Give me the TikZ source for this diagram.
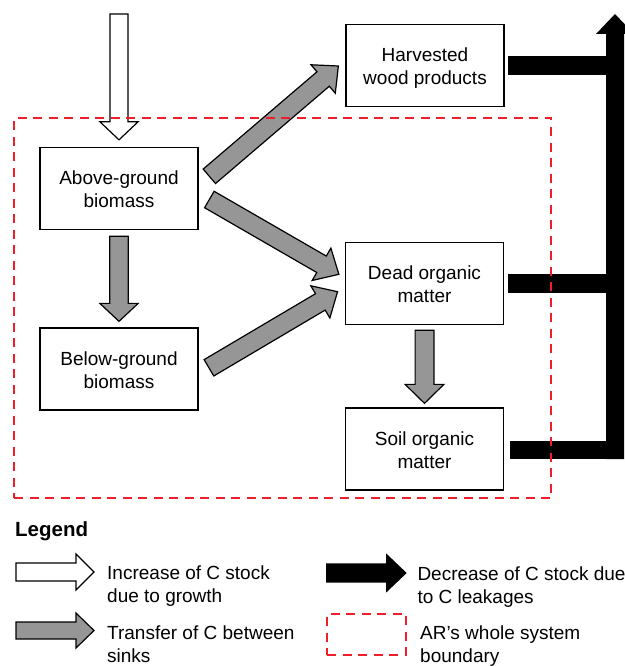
\documentclass[tikz,border=0pt]{standalone}
\usepackage{fontspec}
\setmainfont{Liberation Sans}
\usetikzlibrary{calc}
\definecolor{arrgray}{RGB}{150,150,150}
\definecolor{bred}{RGB}{240,30,40}
\newcommand\fatarr[6][]{% #1 style, #2 from, #3 to, #4 shaft half width, #5 head half width, #6 head length
  \coordinate (fa-hb) at ($(#3)!#6!(#2)$);
  \path[#1] ($(#2)!#4!90:(#3)$) -- ($(fa-hb)!#4!90:(#3)$) -- ($(fa-hb)!#5!90:(#3)$) -- (#3)
    -- ($(fa-hb)!#5!-90:(#3)$) -- ($(fa-hb)!#4!-90:(#3)$) -- ($(#2)!#4!-90:(#3)$) -- cycle;
}
\tikzset{
  box/.style={draw, line width=1.3pt, minimum width=158pt, minimum height=82pt, align=center,
    inner sep=0pt, text height=38pt, text depth=0pt, font=\fontsize{19}{23}\selectfont},
  grayarr/.style={draw=black, fill=arrgray, line width=1.2pt, line join=miter},
  whitearr/.style={draw=black, fill=white, line width=1.2pt, line join=miter},
  blackarr/.style={fill=black},
  boundary/.style={draw=bred, line width=2pt, dash pattern=on 9pt off 6.5pt},
  legtext/.style={anchor=base west, align=left, inner sep=0pt, font=\fontsize{19}{23}\selectfont},
}
\begin{document}
\begin{tikzpicture}[x=1pt, y={(0pt,-1pt)}]
\useasboundingbox (0,0) rectangle (624,666);

% boxes
\node[box] (above) at (119,188.5) {Above-ground\\biomass};
\node[box] (below) at (119,369) {Below-ground\\biomass};
\node[box] (harv) at (425,65.5) {Harvested\\wood products};
\node[box] (dead) at (424.5,283.5) {Dead organic\\matter};
\node[box] (soil) at (424.5,449) {Soil organic\\matter};

% growth input
\coordinate (src) at (119,14);
\coordinate (srcend) at ($(above.north)+(0,-7)$);
\fatarr[whitearr]{src}{srcend}{9pt}{19pt}{18pt}

% transfers
\coordinate (t1s) at ($(above.east)+(10.7,-12.2)$);
\coordinate (t1e) at ($(harv.west)+(-7,0.5)$);
\fatarr[grayarr]{t1s}{t1e}{9.5pt}{18.7pt}{20pt}
\coordinate (t2s) at ($(above.east)+(10.7,11)$);
\coordinate (t2e) at ($(dead.west)+(-6,-9.2)$);
\fatarr[grayarr]{t2s}{t2e}{9.5pt}{18.7pt}{20pt}
\coordinate (t3s) at ($(below.east)+(10.3,-1.2)$);
\coordinate (t3e) at ($(dead.west)+(-7.3,8.2)$);
\fatarr[grayarr]{t3s}{t3e}{9.5pt}{18.7pt}{20pt}
\coordinate (t4s) at ($(above.south)+(0,6)$);
\coordinate (t4e) at ($(below.north)+(0,-6)$);
\fatarr[grayarr]{t4s}{t4e}{9.2pt}{19.2pt}{18pt}
\coordinate (t5s) at ($(dead.south)+(0,5)$);
\coordinate (t5e) at ($(soil.north)+(0,-4)$);
\fatarr[grayarr]{t5s}{t5e}{9.4pt}{19.4pt}{19pt}

% leakages
\coordinate (leaktop) at (615,14);
\coordinate (leakbot) at (615,459);
\fatarr[blackarr]{leakbot}{leaktop}{9pt}{19pt}{20pt}
\fill ($(harv.east)+(3,-9.7)$) rectangle ($(harv.east -| leaktop)+(0,9.7)$);
\fill ($(dead.east)+(4,-10)$) rectangle ($(dead.east -| leaktop)+(0,9.5)$);
\fill ($(soil.east)+(6,-8)$) rectangle (leakbot);

% system boundary
\node[boundary, minimum width=537pt, minimum height=380pt, inner sep=0pt] (sysb) at (282.5,308) {};

% legend
\node[anchor=base west, inner sep=0pt, font=\fontsize{20.5}{24}\selectfont\bfseries] (legtitle) at (15,536.7) {Legend};

\coordinate (l1s) at (16,572);
\coordinate (l1e) at (94,572);
\fatarr[whitearr]{l1s}{l1e}{9pt}{18pt}{18pt}
\node[legtext] (l1t) at (107,602) {Increase of C stock\\due to growth};

\coordinate (l2s) at (16,630.5);
\coordinate (l2e) at (94,630.5);
\fatarr[grayarr]{l2s}{l2e}{8.5pt}{17.5pt}{18pt}
\node[legtext] (l2t) at (107,662.5) {Transfer of C between\\sinks};

\coordinate (l3s) at (326,573);
\coordinate (l3e) at (406.7,573);
\fatarr[blackarr]{l3s}{l3e}{9.7pt}{19.7pt}{20.7pt}
\node[legtext] (l3t) at (417.3,603.5) {Decrease of C stock due\\to C leakages};

\node[boundary, minimum width=78.7pt, minimum height=41pt, inner sep=0pt] (l4b) at (366.6,634.5) {};
\node[legtext] (l4t) at (420,662.5) {AR’s whole system\\boundary};
\end{tikzpicture}
\end{document}
